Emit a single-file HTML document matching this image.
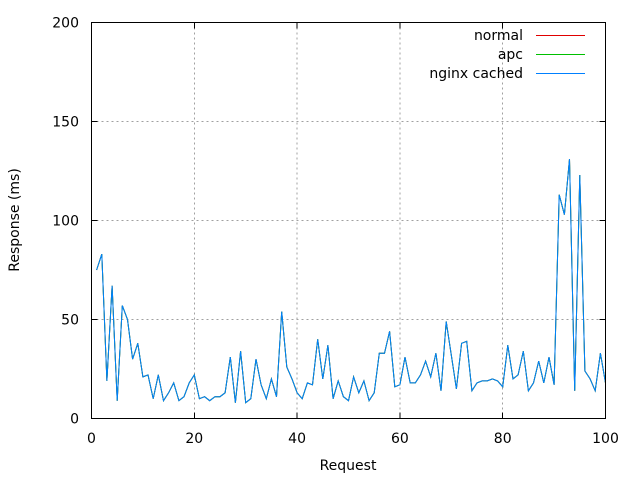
<!DOCTYPE html>
<html><head><meta charset="utf-8"><style>
body{margin:0;background:#fff}
svg{display:block;font-family:"DejaVu Sans","Liberation Sans",sans-serif}
</style></head><body>
<svg id="chart" width="640" height="480" viewBox="0 0 640 480">
<rect width="640" height="480" fill="#fff"/>
<g id="grid" shape-rendering="crispEdges"></g>
<g id="ticks"></g>
<g id="series"></g>
<rect x="91.5" y="22.5" width="514" height="396" fill="none" stroke="#000" stroke-width="1" shape-rendering="crispEdges"/>
<text x="348" y="470" font-size="14" text-anchor="middle" fill="#000">Request</text>
<text transform="translate(19,220) rotate(-90)" font-size="14" text-anchor="middle" fill="#000">Response (ms)</text>
<g id="legend"></g>
</svg>
<script>
const xTicks=[0,20,40,60,80,100];
const yTicks=[0,50,100,150,200];
const seriesNames=["normal","apc","nginx cached"];
const seriesColors=["#e00000","#00c000","#0080ff"];
const nginxValues=[75,83,19,67,9,57,50,30,38,21,22,10,22,9,13,18,9,11,18,22,10,11,9,11,11,13,31,8,34,8,10,30,17,10,20,11,54,26,20,13,10,18,17,40,20,37,10,19,11,9,21,13,19,9,13,33,33,44,16,17,31,18,18,22,29,21,33,14,49,32,15,38,39,14,18,19,19,20,19,16,37,20,22,34,14,18,29,18,31,17,113,103,131,14,123,24,20,14,33,18];
const apcValues=nginxValues.slice();
const normalValues=nginxValues.slice();
const L=91.5,R=605.5,T=22.5,B=418.5;
const xs=v=>L+(v-0)/(100-0)*(R-L);
const ys=v=>B-(v-0)/(200-0)*(B-T);
const NS="http://www.w3.org/2000/svg";
function mk(tag,attrs,parent){const e=document.createElementNS(NS,tag);for(const k in attrs)e.setAttribute(k,attrs[k]);parent.appendChild(e);return e;}
const grid=document.getElementById('grid'),ticks=document.getElementById('ticks'),series=document.getElementById('series'),legend=document.getElementById('legend');
xTicks.forEach(t=>{
 const x=xs(t);
 if(t>0&&t<100){const g=mk('line',{x1:x,x2:x,y1:T,y2:B,stroke:'#a0a0a0','stroke-dasharray':'2,3'},grid);
 
 }
 mk('line',{x1:x,x2:x,y1:B,y2:B-6,stroke:'#000','shape-rendering':'crispEdges'},ticks);
 mk('line',{x1:x,x2:x,y1:T,y2:T+6,stroke:'#000','shape-rendering':'crispEdges'},ticks);
 const l=mk('text',{x:x,y:443,'font-size':14,'text-anchor':'middle',fill:'#000'},ticks);l.textContent=t;
 
 
});
yTicks.forEach(t=>{
 const y=ys(t);
 if(t>0&&t<200){const g=mk('line',{x1:L,x2:R,y1:y,y2:y,stroke:'#a0a0a0','stroke-dasharray':'2,3'},grid);
 
 }
 mk('line',{x1:L,x2:L+6,y1:y,y2:y,stroke:'#000','shape-rendering':'crispEdges'},ticks);
 mk('line',{x1:R,x2:R-6,y1:y,y2:y,stroke:'#000','shape-rendering':'crispEdges'},ticks);
 const l=mk('text',{x:79,y:y+5,'font-size':14,'text-anchor':'end',fill:'#000'},ticks);l.textContent=t;
 
 
});
[normalValues,apcValues,nginxValues].forEach((vals,i)=>{
 const pts=vals.map((v,j)=>xs(j+1).toFixed(1)+','+ys(v).toFixed(1)).join(' ');
 const p=mk('polyline',{points:pts,fill:'none',stroke:seriesColors[i],'stroke-width':1},series);
 
 
 const ly=35+i*19;
 const t=mk('text',{x:523,y:ly+5,'font-size':14,'text-anchor':'end',fill:'#000'},legend);t.textContent=seriesNames[i];
 
 
 const ln=mk('line',{x1:536,x2:585,y1:ly+0.5,y2:ly+0.5,stroke:seriesColors[i],'shape-rendering':'crispEdges'},legend);
 
 
});
</script>
</body></html>
